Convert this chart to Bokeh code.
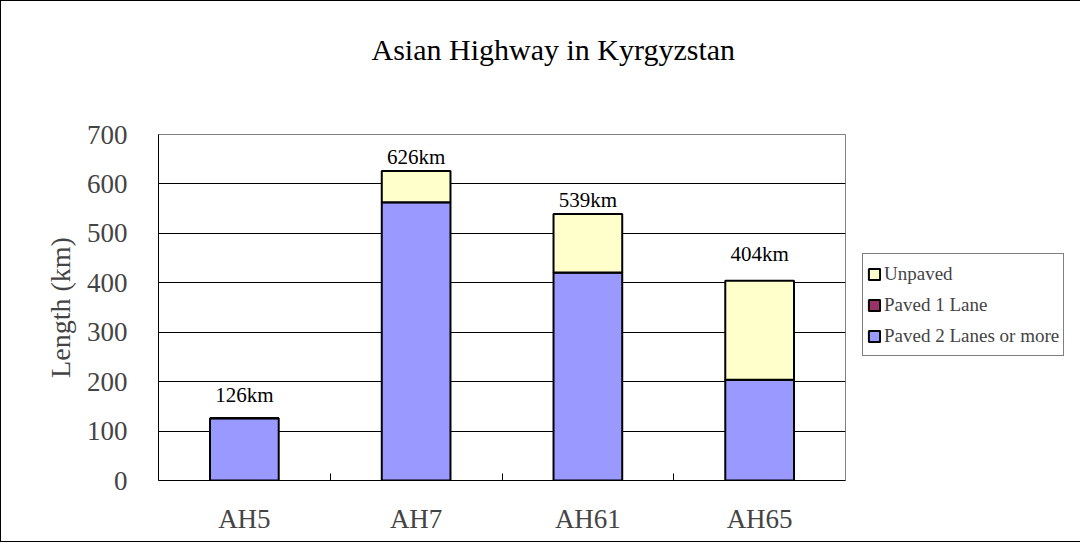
from bokeh.plotting import figure
from bokeh.models import (ColumnDataSource, Range1d, FixedTicker, Legend, LegendItem,
                          LinearAxis, Title)
from bokeh.core.properties import value
from bokeh.embed import file_html
from bokeh.resources import INLINE

categories = ["AH5", "AH7", "AH61", "AH65"]
paved_2_lanes = [126, 563, 421, 204]
paved_1_lane = [0, 0, 0, 0]
unpaved = [0, 63, 118, 200]
totals = [126, 626, 539, 404]
total_labels = ["126km", "626km", "539km", "404km"]
label_offsets = [-23, -14, -14, -27]  # style: px above bar top

series_names = ["Paved 2 Lanes or more", "Paved 1 Lane", "Unpaved"]
series_colors = ["#9999FF", "#993366", "#FFFFCC"]
chart_title = "Asian Highway in Kyrgyzstan"

FONT = "Liberation Serif"

centers = [i + 0.5 for i in range(len(categories))]
boundaries = [i for i in range(1, len(categories))]

source = ColumnDataSource(data=dict(
    x=centers,
    p2=paved_2_lanes,
    p1=paved_1_lane,
    up=unpaved,
    total=totals,
    label=total_labels,
    yoff=label_offsets,
))

p = figure(
    frame_width=687, frame_height=346,
    x_range=Range1d(0, len(categories)), y_range=Range1d(0, 700),
    output_backend="svg", toolbar_location=None,
    min_border_left=157, min_border_right=0, min_border_top=133, min_border_bottom=61,
    title=None,
)
p.styles = {"border": "1px solid black"}
p.background_fill_color = "white"
p.border_fill_color = "white"
p.outline_line_color = "#808080"
p.outline_line_width = 1

# invisible spacer between frame and title
spacer = LinearAxis(ticker=FixedTicker(ticks=[len(categories) / 2]), axis_line_color=None,
                    major_tick_in=0, major_tick_out=69, major_tick_line_color=None,
                    minor_tick_in=0, minor_tick_out=0, minor_tick_line_color=None,
                    major_label_standoff=0,
                    major_label_overrides={len(categories) / 2: ""})
p.add_layout(spacer, "above")

title = Title(text=chart_title, text_font=FONT, text_font_size="30px",
              text_font_style="normal", text_color="black",
              align="left", offset=213, standoff=0, vertical_align="bottom")
p.add_layout(title, "above")

renderers = p.vbar_stack(["p2", "p1", "up"], x="x", width=0.4, source=source,
                         fill_color=series_colors, line_color="black", line_width=2)

p.text(x="x", y="total", text="label", y_offset="yoff", source=source,
       text_align="center", text_baseline="middle",
       text_font=value(FONT), text_font_size="21px", text_color="black")

# grid
p.xgrid.grid_line_color = None
p.ygrid.grid_line_color = "black"
p.ygrid.grid_line_width = 1
p.ygrid.ticker = FixedTicker(ticks=list(range(0, 701, 100)))

# y axis
p.yaxis.ticker = FixedTicker(ticks=list(range(0, 701, 100)))
p.yaxis.axis_label = "Length (km)"
p.yaxis.axis_label_text_font = FONT
p.yaxis.axis_label_text_font_size = "28px"
p.yaxis.axis_label_text_font_style = "normal"
p.yaxis.axis_label_standoff = 8
p.yaxis.major_label_text_font = FONT
p.yaxis.major_label_text_font_size = "27px"
p.yaxis.major_label_standoff = 31
p.yaxis.major_tick_out = 0
p.yaxis.major_tick_in = 0
p.yaxis.minor_tick_line_color = None
p.yaxis.axis_line_color = "black"

# x axis (bottom)
xaxis = p.below[0]
xaxis.ticker = FixedTicker(ticks=centers, minor_ticks=boundaries)
xaxis.major_label_overrides = {c: n for c, n in zip(centers, categories)}
xaxis.major_label_text_font = FONT
xaxis.major_label_text_font_size = "27px"
xaxis.major_label_standoff = 17
xaxis.major_tick_line_color = None
xaxis.minor_tick_in = 7
xaxis.minor_tick_out = 0
xaxis.minor_tick_line_color = "black"
xaxis.axis_line_color = "black"

items = [LegendItem(label=series_names[i], renderers=[renderers[i]]) for i in (2, 1, 0)]
legend = Legend(items=items, location=(17, 124))
legend.label_text_font = FONT
legend.label_text_font_size = "19px"
legend.glyph_width = 14
legend.glyph_height = 14
legend.label_height = 31
legend.label_standoff = 3
legend.spacing = 0
legend.padding = 4
legend.margin = 0
legend.border_line_color = "black"
legend.border_line_width = 1
legend.background_fill_color = "white"
p.add_layout(legend, "right")

open("out.html", "w").write(file_html(p, INLINE))
